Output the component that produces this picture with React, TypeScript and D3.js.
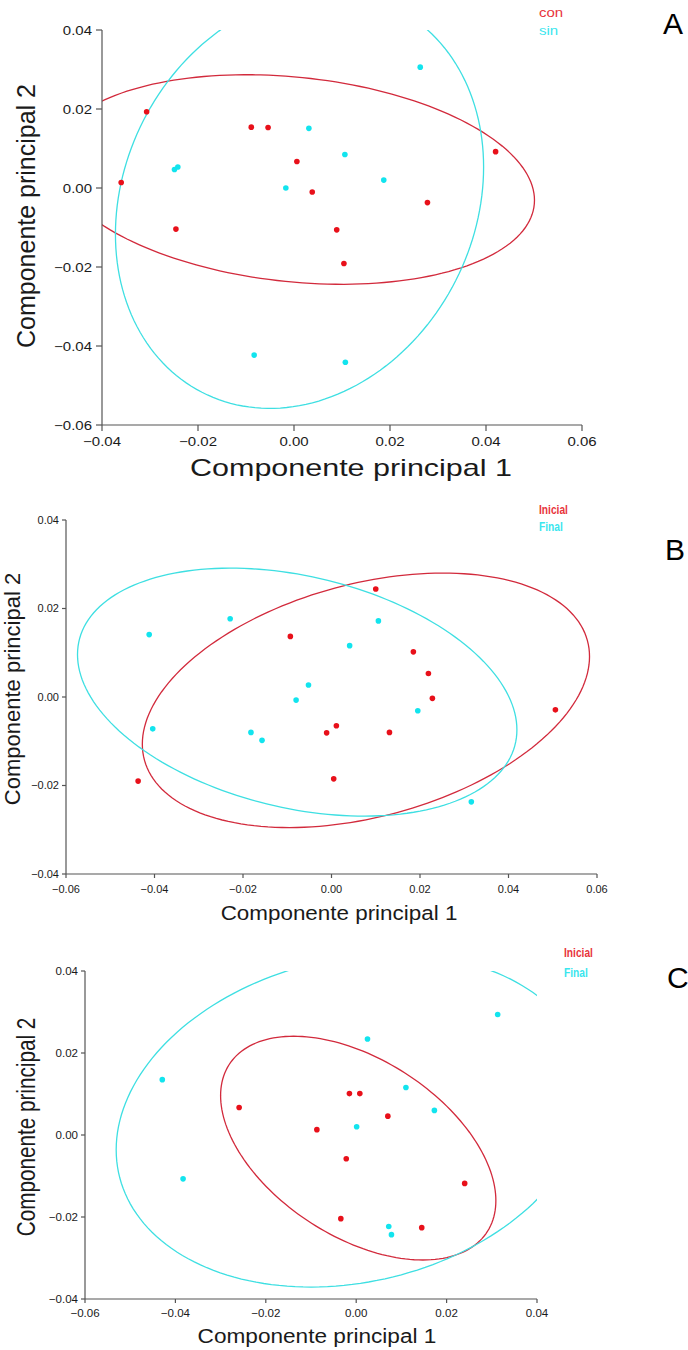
import React from 'react';
import * as d3 from 'd3';

// ---- panel A (con / sin) ----
const aConX = [-0.0307, -0.0360, -0.0246, -0.0089, -0.0054, 0.0006, 0.0038, 0.0089, 0.0104, 0.0278, 0.0420];
const aConY = [0.0193, 0.0014, -0.0104, 0.0154, 0.0153, 0.0067, -0.0010, -0.0106, -0.0191, -0.0037, 0.0092];
const aSinX = [0.0263, 0.0031, 0.0106, -0.0249, -0.0242, -0.0017, 0.0187, -0.0083, 0.0107];
const aSinY = [0.0306, 0.0151, 0.0085, 0.0047, 0.0053, 0.0000, 0.0020, -0.0423, -0.0441];
// ellipse: centre x, centre y, half width, y shift at right end, conjugate y
const aConEllipse = [0.0, 0.00215, 0.0501, -0.00525, 0.026];
const aSinEllipse = [0.00115, -0.0032, 0.03835, 0.0085, 0.0519];
const aXTicks = [-0.04, -0.02, 0, 0.02, 0.04, 0.06];
const aYTicks = [-0.06, -0.04, -0.02, 0, 0.02, 0.04];

// ---- panel B (Inicial / Final) ----
const bIniX = [0.0100, -0.0093, 0.0185, 0.0219, 0.0228, 0.0506, 0.0011, -0.0011, 0.0131, 0.0005, -0.0437];
const bIniY = [0.0244, 0.0137, 0.0102, 0.0053, -0.0003, -0.0029, -0.0065, -0.0081, -0.0080, -0.0185, -0.0190];
const bFinX = [-0.0412, -0.0229, 0.0106, 0.0041, -0.0052, -0.0080, 0.0195, -0.0404, -0.0182, -0.0157, 0.0316];
const bFinY = [0.0141, 0.0177, 0.0172, 0.0116, 0.0027, -0.0007, -0.0031, -0.0072, -0.0080, -0.0098, -0.0237];
const bIniEllipse = [0.00778, -0.00075, 0.05053, 0.0099, 0.027];
const bFinEllipse = [-0.00775, 0.0011, 0.04965, -0.0085, 0.0267];
const bXTicks = [-0.06, -0.04, -0.02, 0, 0.02, 0.04, 0.06];
const bYTicks = [-0.04, -0.02, 0, 0.02, 0.04];

// ---- panel C (Inicial / Final) ----
const cIniX = [-0.0015, 0.0008, -0.0259, 0.0070, -0.0087, -0.0022, 0.0240, -0.0034, 0.0145];
const cIniY = [0.0101, 0.0101, 0.0067, 0.0046, 0.0013, -0.0058, -0.0118, -0.0204, -0.0226];
const cFinX = [0.0313, 0.0025, -0.0429, 0.0110, 0.0173, 0.0001, -0.0383, 0.0072, 0.0078];
const cFinY = [0.0294, 0.0234, 0.0135, 0.0116, 0.0060, 0.0020, -0.0107, -0.0223, -0.0243];
const cIniEllipse = [0.00045, -0.0032, 0.03045, -0.0128, 0.0241];
const cFinEllipse = [-0.00088, 0.00355, 0.05222, 0.00715, 0.0400];
const cXTicks = [-0.06, -0.04, -0.02, 0, 0.02, 0.04];
const cYTicks = [-0.04, -0.02, 0, 0.02, 0.04];

const RED = '#e8101a';
const CYAN = '#12e4ee';
const RED_LINE = '#d22a3c';
const CYAN_LINE = '#3edfe2';
const FONT = 'Liberation Sans, Arial, sans-serif';

const fmt = d3.format('.2f');

function Txt({ x, y, size, sx = 1, anchor = 'start', rotate = 0, fill = '#1a1a1a', weight = 'normal', children }: any) {
  const tr = `translate(${x},${y}) scale(${sx},1)` + (rotate ? ` rotate(${rotate})` : '');
  return (
    <text transform={tr} fontSize={size} textAnchor={anchor} fill={fill} fontWeight={weight} fontFamily={FONT}>
      {children}
    </text>
  );
}

function Panel({ cfg }: any) {
  const x = d3.scaleLinear().domain(cfg.xDomain).range([cfg.left, cfg.right]);
  const y = d3.scaleLinear().domain(cfg.yDomain).range([cfg.bottom, cfg.top]);
  const line = d3.line<number[]>().x(d => x(d[0])).y(d => y(d[1])).curve(d3.curveLinearClosed);

  const ellipse = (e: number[]) =>
    d3.range(0, 360, 2).map(deg => {
      const t = (deg * Math.PI) / 180;
      return [e[0] + e[2] * Math.cos(t), e[1] + e[3] * Math.cos(t) + e[4] * Math.sin(t)];
    });

  const clipId = `clip-${cfg.letter}`;
  const t = cfg.text;

  return (
    <g>
      <defs>
        <clipPath id={clipId}>
          <rect x={cfg.left} y={cfg.top} width={cfg.right - cfg.left} height={cfg.bottom - cfg.top} />
        </clipPath>
      </defs>

      {/* ellipses */}
      <g clipPath={`url(#${clipId})`} fill="none" strokeWidth={1.3}>
        <path d={line(ellipse(cfg.redEllipse)) || ''} stroke={RED_LINE} />
        <path d={line(ellipse(cfg.cyanEllipse)) || ''} stroke={CYAN_LINE} />
      </g>

      {/* points */}
      {cfg.redX.map((v: number, i: number) => (
        <circle key={'r' + i} cx={x(v)} cy={y(cfg.redY[i])} r={2.8} fill={RED} />
      ))}
      {cfg.cyanX.map((v: number, i: number) => (
        <circle key={'c' + i} cx={x(v)} cy={y(cfg.cyanY[i])} r={2.8} fill={CYAN} />
      ))}

      {/* axes */}
      <g stroke="#555" strokeWidth={1.2}>
        <line x1={cfg.left} x2={cfg.left} y1={cfg.top} y2={cfg.bottom} />
        <line x1={cfg.left} x2={cfg.right} y1={cfg.bottom} y2={cfg.bottom} />
        {cfg.yTicks.map((v: number) => (
          <line key={'yt' + v} x1={cfg.left - cfg.tick} x2={cfg.left} y1={y(v)} y2={y(v)} />
        ))}
        {cfg.xTicks.map((v: number) => (
          <line key={'xt' + v} x1={x(v)} x2={x(v)} y1={cfg.bottom} y2={cfg.bottom + cfg.tick} />
        ))}
      </g>

      {cfg.yTicks.map((v: number) => (
        <Txt key={'yl' + v} x={cfg.left - t.yLabelGap} y={y(v) + t.tickSize * 0.36} size={t.tickSize} sx={t.tickSx} anchor="end">
          {fmt(v)}
        </Txt>
      ))}
      {cfg.xTicks.map((v: number) => (
        <Txt key={'xl' + v} x={x(v)} y={t.xLabelY} size={t.tickSize} sx={t.tickSx} anchor="middle">
          {fmt(v)}
        </Txt>
      ))}

      {/* axis titles */}
      <Txt x={t.xTitleX} y={t.xTitleY} size={t.xTitleSize} sx={t.xTitleSx} anchor="middle">
        Componente principal 1
      </Txt>
      <Txt x={t.yTitleX} y={t.yTitleY} size={t.yTitleSize} sx={t.yTitleSx} anchor="middle" rotate={-90}>
        Componente principal 2
      </Txt>

      {/* legend */}
      <Txt x={t.legendX} y={t.legendY[0]} size={t.legendSize} sx={t.legendSx} fill="#e8343c" weight={t.legendWeight}>
        {cfg.names[0]}
      </Txt>
      <Txt x={t.legendX} y={t.legendY[1]} size={t.legendSize} sx={t.legendSx} fill="#3ae6ee" weight={t.legendWeight}>
        {cfg.names[1]}
      </Txt>

      {/* panel letter */}
      <Txt x={t.letterX} y={t.letterY} size={30} fill="#000">
        {cfg.letter}
      </Txt>
    </g>
  );
}

const panels = [
  {
    letter: 'A',
    names: ['con', 'sin'],
    left: 102, right: 582, top: 30, bottom: 425, tick: 6,
    xDomain: [-0.04, 0.06], yDomain: [-0.06, 0.04],
    xTicks: aXTicks, yTicks: aYTicks,
    redX: aConX, redY: aConY, cyanX: aSinX, cyanY: aSinY,
    redEllipse: aConEllipse, cyanEllipse: aSinEllipse,
    text: {
      tickSize: 12.5, tickSx: 1.2, yLabelGap: 10, xLabelY: 446,
      xTitleX: 351, xTitleY: 476, xTitleSize: 24, xTitleSx: 1.27,
      yTitleX: 35, yTitleY: 216, yTitleSize: 25, yTitleSx: 1.05,
      legendX: 539, legendY: [17, 35], legendSize: 12, legendSx: 1.25, legendWeight: 'normal',
      letterX: 663, letterY: 34,
    },
  },
  {
    letter: 'B',
    names: ['Inicial', 'Final'],
    left: 66, right: 597, top: 520, bottom: 874, tick: 4,
    xDomain: [-0.06, 0.06], yDomain: [-0.04, 0.04],
    xTicks: bXTicks, yTicks: bYTicks,
    redX: bIniX, redY: bIniY, cyanX: bFinX, cyanY: bFinY,
    redEllipse: bIniEllipse, cyanEllipse: bFinEllipse,
    text: {
      tickSize: 11, tickSx: 1.0, yLabelGap: 7, xLabelY: 893,
      xTitleX: 339, xTitleY: 920, xTitleSize: 19.5, xTitleSx: 1.15,
      yTitleX: 20, yTitleY: 689, yTitleSize: 22, yTitleSx: 1.0,
      legendX: 539, legendY: [514, 531], legendSize: 12, legendSx: 0.85, legendWeight: 'bold',
      letterX: 665, letterY: 560,
    },
  },
  {
    letter: 'C',
    names: ['Inicial', 'Final'],
    left: 85, right: 537, top: 971, bottom: 1299, tick: 4,
    xDomain: [-0.06, 0.04], yDomain: [-0.04, 0.04],
    xTicks: cXTicks, yTicks: cYTicks,
    redX: cIniX, redY: cIniY, cyanX: cFinX, cyanY: cFinY,
    redEllipse: cIniEllipse, cyanEllipse: cFinEllipse,
    text: {
      tickSize: 11, tickSx: 1.05, yLabelGap: 7, xLabelY: 1317,
      xTitleX: 317, xTitleY: 1343, xTitleSize: 19.5, xTitleSx: 1.16,
      yTitleX: 35, yTitleY: 1127, yTitleSize: 20.7, yTitleSx: 1.2,
      legendX: 564, legendY: [957, 977], legendSize: 12, legendSx: 0.85, legendWeight: 'bold',
      letterX: 667, letterY: 988,
    },
  },
];

export default function App() {
  return (
    <svg
      width={688}
      height={1350}
      style={{ position: 'absolute', left: 0, top: 0, background: '#fff' }}
    >
      <rect width={688} height={1350} fill="#fff" />
      {panels.map(p => (
        <Panel key={p.letter} cfg={p} />
      ))}
    </svg>
  );
}
